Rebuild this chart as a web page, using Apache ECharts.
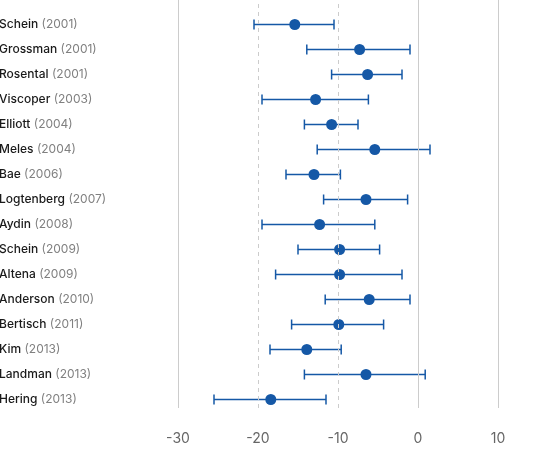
<!DOCTYPE html>
<html>
<head>
<meta charset="utf-8">
<script src="https://cdn.jsdelivr.net/npm/echarts@6/dist/echarts.min.js"></script>
<style>
  html, body { margin: 0; padding: 0; background: #fff; }
  #chart { width: 550px; height: 450px; }
</style>
</head>
<body>
<div id="chart"></div>
<script>
const studies = ['Schein', 'Grossman', 'Rosental', 'Viscoper', 'Elliott', 'Meles', 'Bae', 'Logtenberg',
  'Aydin', 'Schein', 'Altena', 'Anderson', 'Bertisch', 'Kim', 'Landman', 'Hering']
const years = [2001, 2001, 2001, 2003, 2004, 2004, 2006, 2007, 2008, 2009, 2009, 2010, 2011, 2013, 2013, 2013]
const estimate = [-15.4, -7.3, -6.3, -12.8, -10.8, -5.4, -13.0, -6.5, -12.3, -9.8, -9.8, -6.1, -9.9, -13.9, -6.5, -18.4]
const lower = [-20.5, -13.9, -10.8, -19.5, -14.2, -12.6, -16.5, -11.8, -19.5, -15.0, -17.8, -11.6, -15.8, -18.5, -14.2, -25.5]
const upper = [-10.5, -1.0, -2.0, -6.2, -7.5, 1.5, -9.7, -1.3, -5.4, -4.8, -2.0, -1.0, -4.3, -9.6, 0.9, -11.5]
const solidLines = [-30, 0, 10]
const dashedLines = [-20, -10]

const blue = '#1558a6'
const chart = echarts.init(document.getElementById('chart'))

const labels = studies.map((s, i) => s + '|' + years[i])

const option = {
  animation: false,
  textStyle: { fontFamily: 'Inter' },
  grid: [
    { left: 178, right: 52, top: 12, height: 400, outerBoundsMode: 'none', containLabel: false },
    { left: 178, right: 52, top: 0, height: 408, outerBoundsMode: 'none', containLabel: false }
  ],
  xAxis: [
    {
      gridIndex: 0, type: 'value', min: -30, max: 10, interval: 10,
      axisLine: { show: false }, axisTick: { show: false }, splitLine: { show: false },
      axisLabel: { color: '#666', fontSize: 14, margin: 20, fontFamily: 'Inter' }
    },
    {
      gridIndex: 1, type: 'value', min: -30, max: 10, show: false, splitLine: { show: false }
    }
  ],
  yAxis: [
    {
      gridIndex: 0, type: 'category', inverse: true, data: labels,
      axisLine: { show: false }, axisTick: { show: false }, splitLine: { show: false },
      axisLabel: {
        align: 'left', margin: 179,
        formatter: v => {
          const p = v.split('|')
          return '{n|' + p[0] + '} {y|(' + p[1] + ')}'
        },
        rich: {
          n: { color: '#1a1a1a', fontSize: 12, fontWeight: 500, fontFamily: 'Inter' },
          y: { color: '#808080', fontSize: 12, fontFamily: 'Inter' }
        }
      }
    },
    {
      gridIndex: 1, type: 'value', min: 0, max: 1, show: false, splitLine: { show: false }
    }
  ],
  series: [
    {
      type: 'scatter', xAxisIndex: 1, yAxisIndex: 1, symbolSize: 0, silent: true,
      data: [[-30, 0.5]],
      markLine: {
        silent: true, symbol: 'none', label: { show: false },
        data: solidLines.map(x => ({ xAxis: x, lineStyle: { color: '#cccccc', type: 'solid', width: 1 } }))
          .concat(dashedLines.map(x => ({ xAxis: x, lineStyle: { color: '#cccccc', type: [4, 4], width: 1 } })))
      }
    },
    {
      type: 'custom', xAxisIndex: 0, yAxisIndex: 0,
      data: lower.map((l, i) => [l, upper[i], i]),
      renderItem: (params, api) => {
        const a = api.coord([api.value(0), api.value(2)])
        const b = api.coord([api.value(1), api.value(2)])
        const h = 5
        const style = { stroke: blue, lineWidth: 1.5 }
        return {
          type: 'group',
          children: [
            { type: 'line', shape: { x1: a[0], y1: a[1], x2: b[0], y2: b[1] }, style },
            { type: 'line', shape: { x1: a[0], y1: a[1] - h, x2: a[0], y2: a[1] + h }, style },
            { type: 'line', shape: { x1: b[0], y1: b[1] - h, x2: b[0], y2: b[1] + h }, style }
          ]
        }
      },
      z: 2
    },
    {
      type: 'scatter', xAxisIndex: 0, yAxisIndex: 0,
      symbolSize: 11,
      itemStyle: { color: blue, opacity: 1 },
      data: estimate.map((e, i) => [e, i]),
      z: 3
    }
  ]
}

chart.setOption(option)
</script>
</body>
</html>
